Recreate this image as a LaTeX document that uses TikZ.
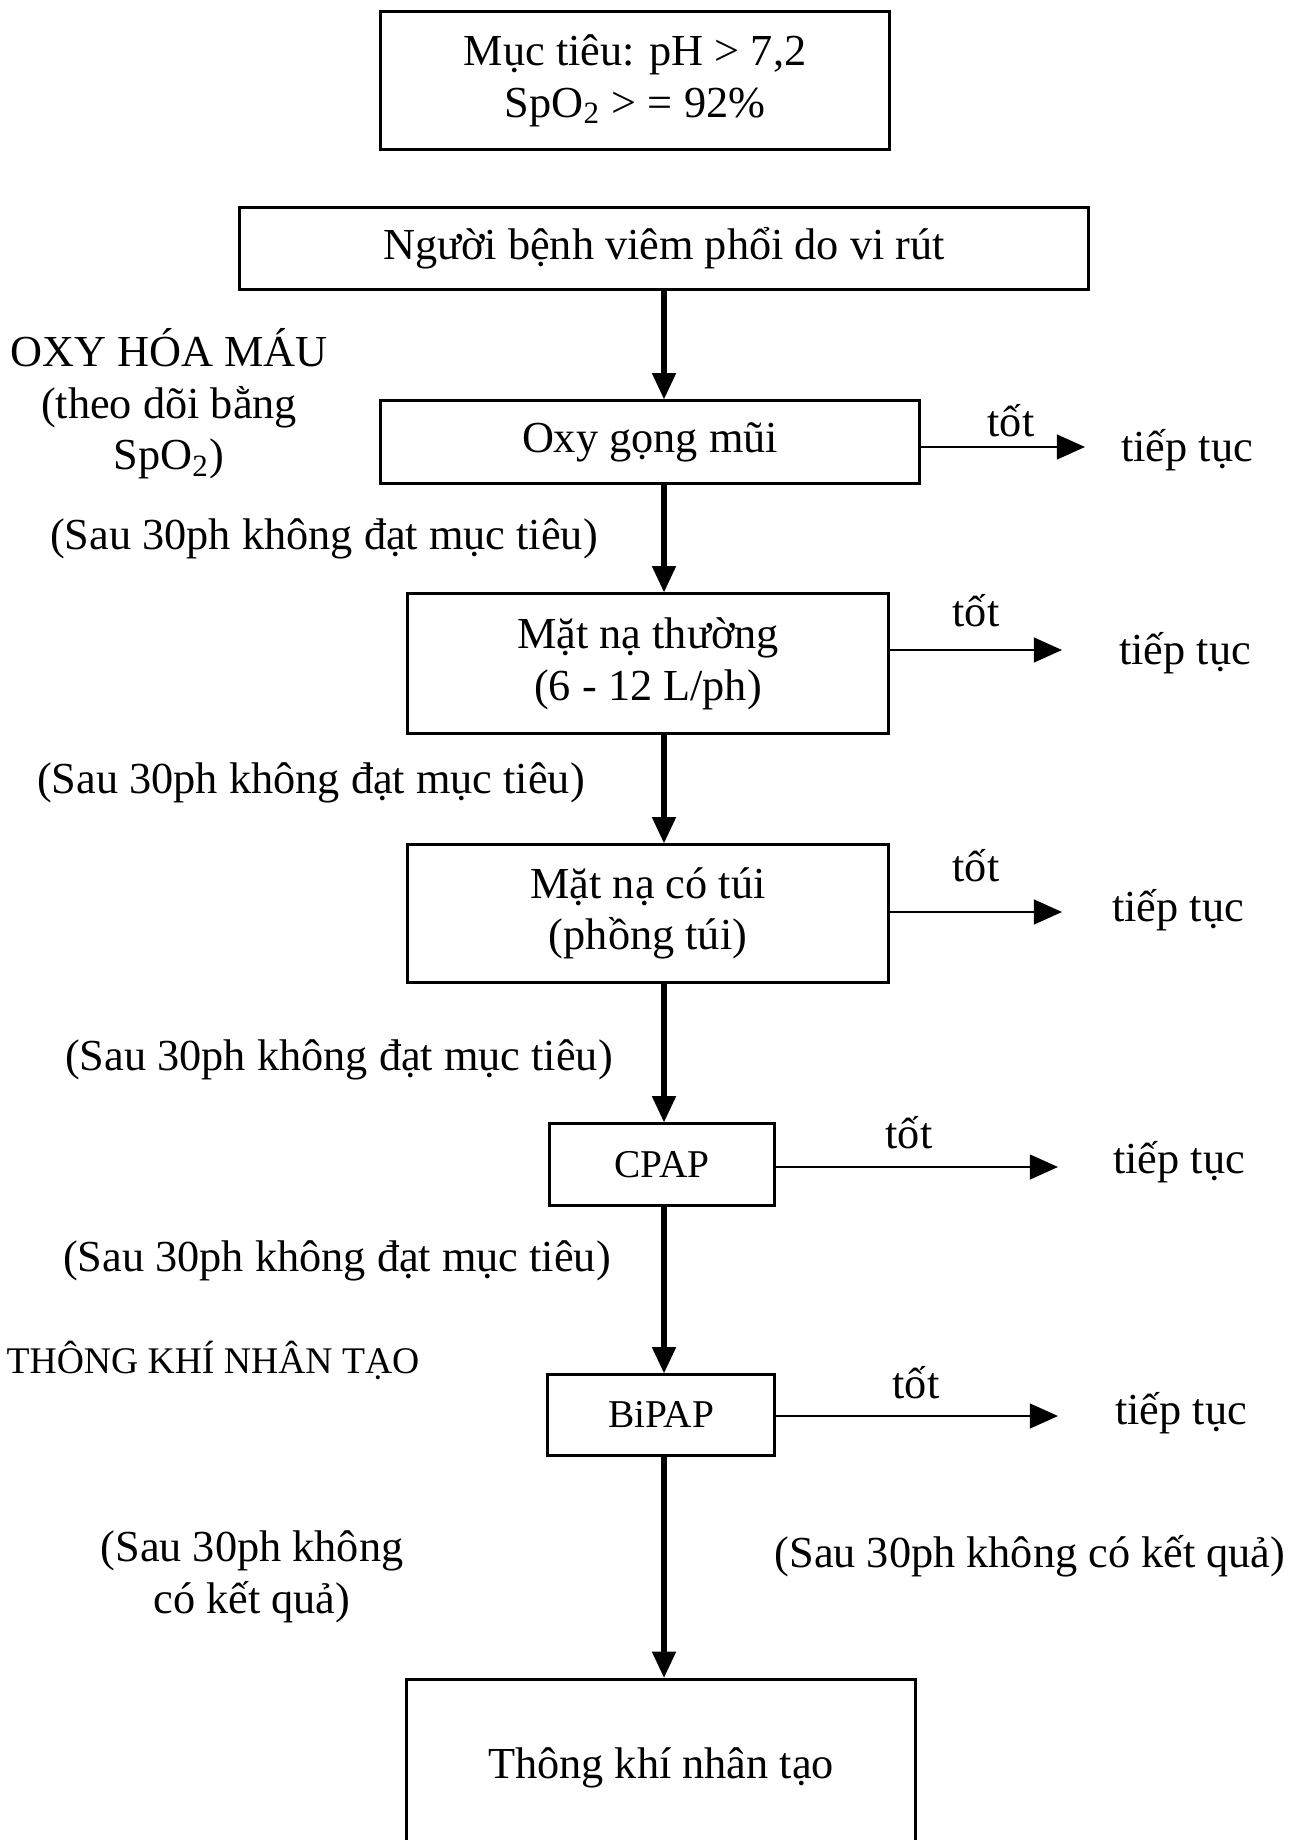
\documentclass[tikz,border=0pt]{standalone}
\usepackage{fontspec}
\setmainfont{Liberation Serif}
\usetikzlibrary{arrows.meta}
\newcommand\mainf{\fontsize{12.6}{14.7}\selectfont}
\newcommand\boxf{\fontsize{11.2}{13}\selectfont}
\newcommand\capf{\fontsize{10.7}{12.5}\selectfont}
\begin{document}
\begin{tikzpicture}[x=0.01cm,y=-0.01cm,
  box/.style={draw, line width=0.85pt, inner sep=0pt, align=center, font=\mainf},
  txt/.style={inner sep=0pt, align=center, font=\mainf},
  varrow/.style={line width=1.5pt, -{Triangle[length=7.5pt,width=6.5pt]}},
  harrow/.style={line width=0.75pt, -{Triangle[length=8pt,width=7pt]}}]
\useasboundingbox (0,0) rectangle (1294,1840);
\clip (0,0) rectangle (1294,1840);
% boxes
\node[box, minimum width=5.08cm, minimum height=1.37cm] (goal) at (635,80.5) {Mục tiêu: pH > 7,2\\SpO\textsubscript{2} > = 92\%};
\node[box, minimum width=8.48cm, minimum height=0.81cm] (patient) at (664,248.5) {Người bệnh viêm phổi do vi rút};
\node[box, minimum width=5.38cm, minimum height=0.82cm] (oxy) at (650,442) {Oxy gọng mũi};
\node[box, minimum width=4.80cm, minimum height=1.39cm] (mask1) at (648,663.5) {Mặt nạ thường\\(6 - 12 L/ph)};
\node[box, minimum width=4.80cm, minimum height=1.37cm] (mask2) at (648,913.5) {Mặt nạ có túi\\(phồng túi)};
\node[box, font=\boxf, minimum width=2.24cm, minimum height=0.81cm] (cpap) at (662,1164.5) {CPAP};
\node[box, font=\boxf, minimum width=2.26cm, minimum height=0.80cm] (bipap) at (661,1415) {BiPAP};
\node[box, minimum width=5.08cm, minimum height=2.4cm, anchor=north] (final) at (661,1678) {};
\node[txt] (finalt) at (661,1768) {Thông khí nhân tạo};
% spine arrows
\coordinate (sp) at (664,0);
\draw[varrow] (patient.south -| sp) -- (oxy.north -| sp);
\draw[varrow] (oxy.south -| sp) -- (mask1.north -| sp);
\draw[varrow] (mask1.south -| sp) -- (mask2.north -| sp);
\draw[varrow] (mask2.south -| sp) -- (cpap.north -| sp);
\draw[varrow] (cpap.south -| sp) -- (bipap.north -| sp);
\draw[varrow] (bipap.south -| sp) -- (final.north -| sp);
% side arrows
\coordinate (e1) at (1085,447);
\coordinate (e2) at (1062,650);
\coordinate (e3) at (1062,912);
\coordinate (e4) at (1058,1167);
\coordinate (e5) at (1058,1416);
\draw[harrow] (oxy.east |- e1) -- (e1);
\draw[harrow] (mask1.east |- e2) -- (e2);
\draw[harrow] (mask2.east |- e3) -- (e3);
\draw[harrow] (cpap.east |- e4) -- (e4);
\draw[harrow] (bipap.east |- e5) -- (e5);
% labels tot / tiep tuc
\node[txt] (t1) at (1011,421) {tốt};
\node[txt] (t2) at (976,611) {tốt};
\node[txt] (t3) at (976,866) {tốt};
\node[txt] (t4) at (909,1133) {tốt};
\node[txt] (t5) at (916,1383) {tốt};
\node[txt] (c1) at (1187,450) {tiếp tục};
\node[txt] (c2) at (1185,653) {tiếp tục};
\node[txt] (c3) at (1178,910) {tiếp tục};
\node[txt] (c4) at (1179,1162) {tiếp tục};
\node[txt] (c5) at (1181,1413) {tiếp tục};
% left labels
\node[txt] (oxyhd) at (169,404) {OXY HÓA MÁU\\(theo dõi bằng\\SpO\textsubscript{2})};
\node[txt] (s1) at (324,539) {(Sau 30ph không đạt mục tiêu)};
\node[txt] (s2) at (311,783) {(Sau 30ph không đạt mục tiêu)};
\node[txt] (s3) at (339,1060) {(Sau 30ph không đạt mục tiêu)};
\node[txt] (s4) at (337,1261) {(Sau 30ph không đạt mục tiêu)};
\node[txt, font=\capf] (tk) at (213,1360) {THÔNG KHÍ NHÂN TẠO};
\node[txt] (s5) at (252,1577) {(Sau 30ph không\\có kết quả)};
\node[txt] (s6) at (1030,1556) {(Sau 30ph không có kết quả)};
\end{tikzpicture}
\end{document}
